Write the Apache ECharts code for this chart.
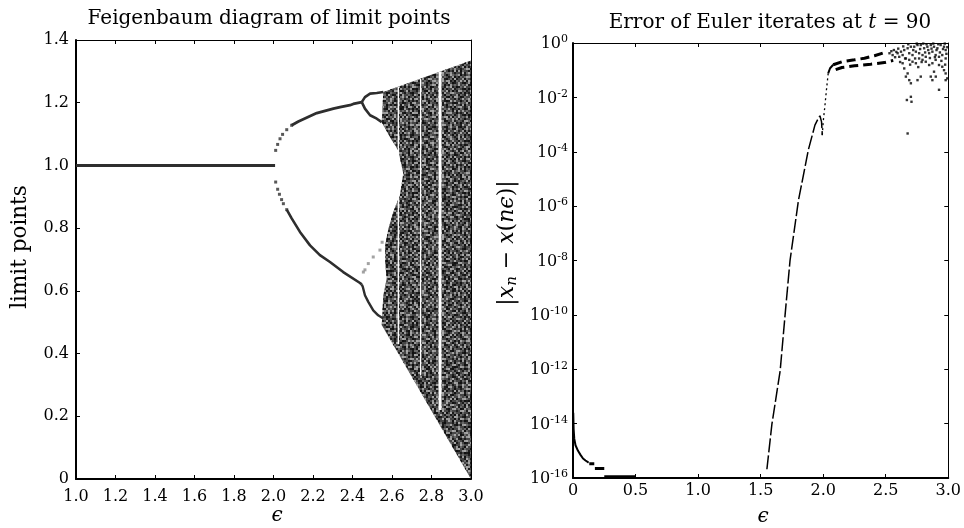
<!DOCTYPE html>
<html><head><meta charset="utf-8">
<script src="https://cdn.jsdelivr.net/npm/echarts@6/dist/echarts.min.js"></script>
<style>html,body{margin:0;padding:0;background:#fff}#c{width:964px;height:528px}</style>
</head><body><div id="c"></div>
<script>
// ---------------- Left panel: Feigenbaum diagram ----------------
const xTicksLeft = [1.0, 3.0, 0.2];           // min, max, step
const yTicksLeft = [0, 1.4, 0.2];
const fixedEps = [1.0, 2.008];
const fixedVal = [1.0, 1.0];
const p2UpDotEps = [2.011, 2.021, 2.033, 2.046, 2.067, 2.092];
const p2UpDotVal = [1.048, 1.067, 1.085, 1.099, 1.114, 1.128];
const p2UpEps = [2.092, 2.126, 2.134, 2.219, 2.303, 2.337, 2.387, 2.404, 2.447];
const p2UpVal = [1.128, 1.140, 1.146, 1.167, 1.181, 1.186, 1.192, 1.196, 1.202];
const p2LoDotEps = [2.011, 2.021, 2.030, 2.041, 2.050, 2.067];
const p2LoDotVal = [0.947, 0.924, 0.908, 0.891, 0.878, 0.859];
const p2LoEps = [2.067, 2.092, 2.134, 2.185, 2.235, 2.286, 2.353, 2.438, 2.447];
const p2LoVal = [0.859, 0.831, 0.788, 0.745, 0.714, 0.692, 0.660, 0.625, 0.620];
const p4UUEps = [2.447, 2.463, 2.489, 2.523, 2.556];
const p4UUVal = [1.202, 1.218, 1.229, 1.231, 1.234];
const p4ULEps = [2.447, 2.463, 2.489, 2.523, 2.548];
const p4ULVal = [1.202, 1.181, 1.160, 1.149, 1.138];
const p4LUEps = [2.455, 2.463, 2.480, 2.505, 2.539, 2.550];
const p4LUVal = [0.660, 0.667, 0.687, 0.708, 0.730, 0.755];
const p4LLEps = [2.447, 2.452, 2.463, 2.480, 2.505, 2.530, 2.556];
const p4LLVal = [0.620, 0.613, 0.586, 0.565, 0.538, 0.522, 0.512];
// outline of the chaotic band
const chaosEps = [2.556, 3.0, 3.0, 2.548, 2.556, 2.573, 2.565, 2.565, 2.582, 2.607, 2.640, 2.657, 2.632, 2.590, 2.548];
const chaosVal = [1.234, 1.335, 0.0, 0.491, 0.586, 0.639, 0.692, 0.745, 0.799, 0.852, 0.905, 0.974, 1.048, 1.090, 1.138];
// periodic windows (white gaps)
const windowEps = [2.632, 2.745, 2.843];
const windowTop = [1.251, 1.277, 1.299];
const windowBottom = [0.43, 0.33, 0.22];
const windowDotEps = [2.843, 2.843];
const windowDotVal = [0.685, 0.655];

// ---------------- Right panel: error of Euler iterates ----------------
const xTicksRight = [0, 3.0, 0.5];
const nearZeroEps = [0.002, 0.005, 0.010, 0.020, 0.040, 0.060, 0.080, 0.100, 0.125];
const nearZeroErr = [2.5e-14, 6.3e-15, 2.8e-15, 1.6e-15, 1.0e-15, 7.1e-16, 5.2e-16, 4.4e-16, 3.7e-16];
const stepStart = [0.130, 0.175, 0.250];
const stepEnd   = [0.170, 0.250, 0.500];
const stepErr   = [3.33e-16, 2.22e-16, 1.11e-16];
const steepEps = [1.550, 1.590, 1.656, 1.696, 1.735, 1.802, 1.881, 1.934, 1.960, 1.974, 1.987, 1.993];
const steepErr = [2.1e-16, 9.5e-15, 8.7e-13, 1.07e-10, 1.0e-8, 1.6e-6, 1.15e-4, 9.5e-4, 1.66e-3, 2.1e-3, 1.26e-3, 4.1e-4];
const riseEps = [1.993, 2.000, 2.013, 2.026, 2.040];
const riseErr = [4.1e-4, 1.26e-3, 4.5e-3, 1.86e-2, 7.6e-2];
const bendEps = [2.040, 2.055, 2.080];
const bendErr = [7.6e-2, 0.118, 0.158];
const branchUpEps = [2.080, 2.150, 2.250, 2.330, 2.410, 2.500];
const branchUpErr = [0.158, 0.204, 0.240, 0.275, 0.339, 0.457];
const branchLoEps = [2.100, 2.150, 2.250, 2.380, 2.490, 2.560];
const branchLoErr = [0.105, 0.126, 0.145, 0.166, 0.190, 0.229];
const scatterEps = [2.53,2.545,2.555,2.565,2.575,2.585,2.595,2.6,2.608,2.615,2.622,2.635,2.635,2.64,2.648,2.648,2.655,2.661,2.661,2.669,2.675,2.675,2.675,2.68,2.688,2.688,2.688,2.695,2.701,2.701,2.701,2.706,2.714,2.714,2.72,2.728,2.735,2.741,2.741,2.748,2.754,2.754,2.76,2.767,2.767,2.775,2.78,2.78,2.787,2.794,2.794,2.8,2.807,2.815,2.82,2.82,2.826,2.833,2.84,2.847,2.847,2.853,2.86,2.86,2.866,2.873,2.873,2.873,2.88,2.886,2.886,2.893,2.899,2.899,2.9,2.906,2.913,2.92,2.926,2.926,2.926,2.933,2.939,2.945,2.952,2.952,2.958,2.966,2.966,2.972,2.975,2.979,2.979,2.979,2.979,2.985,2.992,2.992];
const scatterErr = [0.42,0.5,0.36,0.55,0.3,0.47,0.42,0.62,0.31,0.2,0.48,0.36,0.18,0.75,0.55,0.116,0.27,0.27,0.058,0.008,0.64,0.076,0.00047,0.9,0.42,0.24,0.043,0.16,0.73,0.033,0.0105,0.0069,0.36,0.205,0.55,0.73,0.27,0.48,0.18,0.95,0.84,0.043,0.13,0.42,0.27,0.6,0.84,0.058,0.2,0.36,0.24,0.95,0.64,0.45,0.31,0.205,0.9,0.73,0.55,0.42,0.155,0.28,0.84,0.058,0.62,0.48,0.18,0.043,0.95,0.73,0.088,0.3,0.36,0.24,0.058,0.55,0.64,0.9,0.31,0.155,0.019,0.45,0.84,0.22,0.36,0.134,0.6,0.73,0.1,0.95,0.16,0.55,0.27,0.076,0.043,0.4,0.05,0.7];

// ---------------- styling ----------------
const FONT = 'DejaVu Serif';
const DARK = '#2e2e2e';
const windowWidths = [1.3, 1.3, 3];
// texture for the chaotic band: two fixed hand-made tiles of co-prime size (style only)
const TEX_A = [
 '1201311021130120','3110201312011203','0213110120321101','1102031211012031',
 '2310110302113012','1021231101201310','0131102120310121','1203011312101302',
 '3011210130211013','1120131021302110','0312101213011231','2101302101120103',
 '1130121031211320','0211013120130211','1302110211021031','2011302103112102'];
const TEX_A_COLORS = { '0': '#1c1c1c', '1': '#464646', '2': '#6a6a6a', '3': '#9a9a9a' };
const TEX_B = [
 '..0...3....0.','3.....0..3...','...3.0.....0.','.0......3....','....3..0...3.',
 '0..........0.','..3..0..3....','.....3.....0.','.0..........3','...0..3..0...',
 '3.........3..','..0.3....0...','......0.....3'];
const TEX_B_COLORS = { '0': '#111111', '3': '#a6a6a6' };
function makeTexture(rows, colors) {
  const cell = 2;
  const cv = document.createElement('canvas');
  cv.width = rows[0].length * cell; cv.height = rows.length * cell;
  const ctx = cv.getContext('2d');
  rows.forEach((row, r) => { for (let c = 0; c < row.length; c++) {
    const col = colors[row[c]]; if (!col) continue;
    ctx.fillStyle = col; ctx.fillRect(c * cell, r * cell, cell, cell); } });
  return { image: cv, repeat: 'repeat' };
}
const textureA = makeTexture(TEX_A, TEX_A_COLORS);
const textureB = makeTexture(TEX_B, TEX_B_COLORS);

const zip = (a, b) => a.map((v, i) => [v, b[i]]);
const fmt1 = v => (Math.abs(v) < 1e-9 ? '0' : v.toFixed(1));

function xAx(grid, t, pos, main, labelMargin) {
  return { type: 'value', gridIndex: grid, min: t[0], max: t[1], interval: t[2], position: pos,
    axisLine: { show: true, onZero: false, lineStyle: { color: '#000', width: main ? 2 : 1 } },
    axisTick: { show: true, inside: true, length: 4, lineStyle: { color: '#000', width: 1 } },
    axisLabel: { show: main, formatter: fmt1, fontFamily: FONT, fontSize: 16, color: '#000', margin: labelMargin },
    splitLine: { show: false } };
}

const option = {
  animation: false,
  backgroundColor: '#fff',
  grid: [
    { left: 76, top: 40, width: 395, height: 439 },
    { left: 573, top: 43, width: 378, height: 435 }
  ],
  xAxis: [
    xAx(0, xTicksLeft, 'bottom', true, 10),
    xAx(0, xTicksLeft, 'top', false, 0),
    xAx(1, xTicksRight, 'bottom', true, 5),
    xAx(1, xTicksRight, 'top', false, 0)
  ],
  yAxis: [
    { type: 'value', gridIndex: 0, min: yTicksLeft[0], max: yTicksLeft[1], interval: yTicksLeft[2], position: 'left',
      axisLine: { show: true, onZero: false, lineStyle: { color: '#000', width: 2 } },
      axisTick: { show: true, inside: true, length: 4, lineStyle: { color: '#000' } },
      axisLabel: { formatter: fmt1, fontFamily: FONT, fontSize: 16, color: '#000', margin: 7 },
      splitLine: { show: false } },
    { type: 'value', gridIndex: 0, min: yTicksLeft[0], max: yTicksLeft[1], interval: yTicksLeft[2], position: 'right',
      axisLine: { show: true, onZero: false, lineStyle: { color: '#000', width: 1 } },
      axisTick: { show: true, inside: true, length: 4, lineStyle: { color: '#000' } },
      axisLabel: { show: false }, splitLine: { show: false } },
    { type: 'log', logBase: 10, gridIndex: 1, min: 1e-16, max: 1, interval: 2, position: 'left',
      axisLine: { show: true, onZero: false, lineStyle: { color: '#000', width: 2 } },
      axisTick: { show: true, inside: true, length: 4, lineStyle: { color: '#000' } },
      minorTick: { show: false },
      axisLabel: { fontFamily: FONT, color: '#000', margin: 5,
        formatter: v => '{b|10}{s|' + Math.round(Math.log10(v)) + '}',
        rich: { b: { fontFamily: FONT, fontSize: 16, color: '#000', lineHeight: 18, verticalAlign: 'bottom' },
                s: { fontFamily: FONT, fontSize: 11, color: '#000', lineHeight: 8, verticalAlign: 'top' } } },
      splitLine: { show: false } },
    { type: 'log', logBase: 10, gridIndex: 1, min: 1e-16, max: 1, interval: 2, position: 'right',
      axisLine: { show: true, onZero: false, lineStyle: { color: '#000', width: 1 } },
      axisTick: { show: true, inside: true, length: 4, lineStyle: { color: '#000' } },
      minorTick: { show: false },
      axisLabel: { show: false }, splitLine: { show: false } }
  ],
  graphic: [
    { type: 'text', x: 269, y: 19, silent: true,
      style: { text: 'Feigenbaum diagram of limit points', font: '20px "DejaVu Serif"', fill: '#000', align: 'center', verticalAlign: 'middle' } },
    { type: 'text', x: 770, y: 23, silent: true,
      style: { text: '{r|Error of Euler iterates at }{i|t}{r| = 90}', align: 'center', verticalAlign: 'middle', fill: '#000',
        rich: { r: { fontFamily: FONT, fontSize: 20, fill: '#000' }, i: { fontFamily: FONT, fontSize: 20, fontStyle: 'italic', fill: '#000' } } } },
    { type: 'text', x: 20, y: 247, rotation: Math.PI / 2, silent: true,
      style: { text: 'limit points', font: '21.5px "DejaVu Serif"', fill: '#000', align: 'center', verticalAlign: 'middle' } },
    { type: 'text', x: 277, y: 516, silent: true,
      style: { text: 'ϵ', font: 'italic 20px "DejaVu Serif"', fill: '#000', align: 'center', verticalAlign: 'middle' } },
    { type: 'text', x: 763, y: 517, silent: true,
      style: { text: 'ϵ', font: 'italic 20px "DejaVu Serif"', fill: '#000', align: 'center', verticalAlign: 'middle' } },
    { type: 'text', x: 507, y: 243, rotation: Math.PI / 2, silent: true,
      style: { text: '{r||}{i|x}{sub|n}{r| − }{i|x}{r|(}{i|nϵ}{r|)|}', align: 'center', verticalAlign: 'middle', fill: '#000',
        rich: { r: { fontFamily: FONT, fontSize: 22, lineHeight: 26, verticalAlign: 'middle', fill: '#000' },
                i: { fontFamily: FONT, fontSize: 22, fontStyle: 'italic', lineHeight: 26, verticalAlign: 'middle', fill: '#000' },
                sub: { fontFamily: FONT, fontSize: 15, fontStyle: 'italic', lineHeight: 16, verticalAlign: 'bottom', fill: '#000' } } } }
  ],
  series: []
};

const S = option.series;
const lineL = (e, v, w, color) => ({ type: 'line', xAxisIndex: 0, yAxisIndex: 0, data: zip(e, v), showSymbol: false, silent: true,
  lineStyle: { color: color || DARK, width: w } });
const dotsL = (e, v, size, color) => ({ type: 'scatter', xAxisIndex: 0, yAxisIndex: 0, data: zip(e, v), symbol: 'rect', symbolSize: size, silent: true,
  itemStyle: { color: color || DARK } });

// chaotic band polygon (base texture + overlay speckles)
[textureA, textureB].forEach(tex => {
  S.push({ type: 'custom', xAxisIndex: 0, yAxisIndex: 0, silent: true, clip: false,
    data: zip(chaosEps, chaosVal),
    renderItem: (params, api) => {
      if (params.dataIndex !== 0) return null;
      const pts = chaosEps.map((e, i) => api.coord([e, chaosVal[i]]));
      return { type: 'polygon', shape: { points: pts }, style: { fill: tex, stroke: null } };
    } });
});
windowEps.forEach((e, i) => {
  S.push({ type: 'line', xAxisIndex: 0, yAxisIndex: 0, silent: true, showSymbol: false,
    data: [[e, windowTop[i]], [e, windowBottom[i]]], lineStyle: { color: '#fff', width: windowWidths[i] } });
});
S.push(dotsL(windowDotEps, windowDotVal, 3));
S.push(lineL(fixedEps, fixedVal, 3));
S.push(dotsL(p2UpDotEps, p2UpDotVal, 3));
S.push(lineL(p2UpEps, p2UpVal, 2.8));
S.push(dotsL(p2LoDotEps, p2LoDotVal, 3));
S.push(lineL(p2LoEps, p2LoVal, 2.6));
S.push(lineL(p4UUEps, p4UUVal, 2.6));
S.push(lineL(p4ULEps, p4ULVal, 2.6));
S.push(dotsL(p4LUEps, p4LUVal, 3, '#8c8c8c'));
S.push(lineL(p4LLEps, p4LLVal, 2.4));

// right panel
const lineR = (e, v, w, type) => ({ type: 'line', xAxisIndex: 2, yAxisIndex: 2, data: zip(e, v), showSymbol: false, silent: true,
  lineStyle: { color: '#000', width: w, type: type || 'solid' } });
S.push(lineR(nearZeroEps, nearZeroErr, 2));
stepStart.forEach((s, i) => S.push(lineR([s, stepEnd[i]], [stepErr[i], stepErr[i]], 3)));
S.push(lineR(steepEps, steepErr, 1.5, [14, 3]));
S.push(lineR(riseEps, riseErr, 1.3, [2, 3]));
S.push(lineR(bendEps, bendErr, 2));
S.push(lineR(branchUpEps, branchUpErr, 3, [9, 5]));
S.push(lineR(branchLoEps, branchLoErr, 3, [9, 5]));
S.push({ type: 'scatter', xAxisIndex: 2, yAxisIndex: 2, data: zip(scatterEps, scatterErr), symbol: 'rect', symbolSize: 2.4, silent: true,
  itemStyle: { color: '#000' } });

const chart = echarts.init(document.getElementById('c'), null, { renderer: 'canvas' });
chart.setOption(option);
</script></body></html>
